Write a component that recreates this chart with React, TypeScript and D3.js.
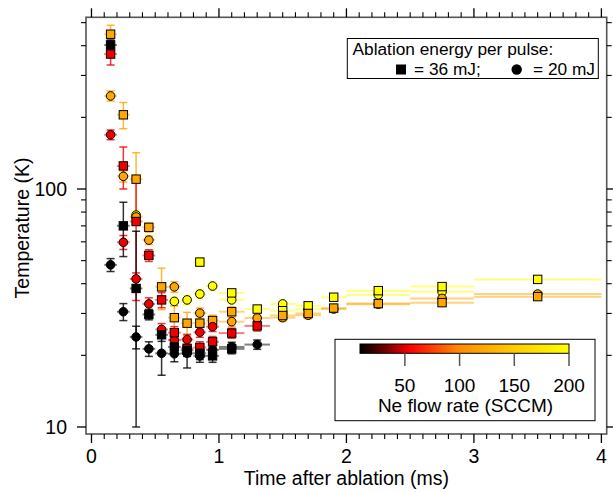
import React from "react";
import * as d3 from "d3";

// ---- data ----
const binTimes = [0.15, 0.25, 0.35, 0.45, 0.55, 0.65, 0.75, 0.85, 0.95, 1.1, 1.3, 1.5, 1.7, 1.9, 2.25, 2.75, 3.5];
const binHalfWidth = [0.05, 0.05, 0.05, 0.05, 0.05, 0.05, 0.05, 0.05, 0.05, 0.1, 0.1, 0.1, 0.1, 0.1, 0.25, 0.25, 0.5];

const flowColors = ["#000000", "#ee0000", "#ffa600", "#ffff00"]; // low -> high Ne flow

// 36 mJ (squares)
const tSqBlack = [0.15, 0.25, 0.35, 0.45, 0.55, 0.65, 0.75, 0.85, 0.95, 1.1];
const TSqBlack = [403, 70, 38.2, 29.7, 24.4, 21.7, 21.0, 20.4, 19.9, 21.3];
const eSqBlack = [20, 18, 28.2, 1.5, 1.5, 1.2, 1.2, 1.2, 1.2, 1.0];

const tSqRed = [0.15, 0.25, 0.35, 0.45, 0.55, 0.65, 0.75, 0.85, 0.95, 1.1, 1.3];
const TSqRed = [369, 125, 73, 52.6, 34.2, 24.9, 21.4, 21.6, 22.8, 24.8, 26.6];
const eSqRed = [37, 25, 39, 3, 2.5, 1.5, 1.5, 1.2, 1.2, 1.2, 1.3];

const tSqOrange = [0.15, 0.25, 0.35, 0.45, 0.55, 0.65, 0.75, 0.85, 0.95, 1.1, 1.5, 1.7, 1.9, 2.25, 2.75, 3.5];
const TSqOrange = [447, 205, 110, 69, 38.8, 28.8, 27.3, 27.3, 28.0, 30.5, 29.4, 30.0, 31.6, 33.0, 33.3, 35.3];
const eSqOrange = [40, 26, 32, 3, 7.7, 3.5, 3, 2, 1.5, 1.5, 1, 1, 1, 1, 1, 1];

const tSqYellow = [0.85, 1.1, 1.3, 1.5, 1.7, 1.9, 2.25, 2.75, 3.5];
const TSqYellow = [49.3, 36.6, 31.3, 30.8, 32.3, 35.1, 37.4, 38.9, 41.7];
const eSqYellow = [2, 1.5, 1.2, 1, 1, 1, 1, 1, 1];

// 20 mJ (circles)
const tCiBlack = [0.15, 0.25, 0.35, 0.45, 0.55, 0.65, 0.75, 0.85, 0.95, 1.1, 1.3];
const TCiBlack = [48, 30.5, 23.9, 21.3, 20.4, 20.3, 20.4, 19.9, 21.1, 21.7, 22.2];
const eCiBlack = [3, 2.5, 2.6, 1.5, 3.9, 1.5, 2.7, 1.2, 1.0, 1.0, 1.0];

const tCiRed = [0.15, 0.25, 0.35, 0.45, 0.55, 0.65, 0.75, 0.85, 0.95];
const TCiRed = [169, 59.7, 41.9, 32.9, 25.7, 23.2, 23.3, 25.0, 26.4];
const eCiRed = [8, 4, 2.5, 2, 1.5, 1.2, 1.2, 1.2, 1.2];

const tCiOrange = [0.15, 0.25, 0.35, 0.45, 0.65, 0.85, 1.1, 1.3, 1.5, 1.7, 1.9, 2.25, 2.75, 3.5];
const TCiOrange = [246, 113, 76.3, 61, 38.8, 30.1, 27.7, 28.7, 28.8, 29.5, 31.3, 32.8, 34.7, 36.2];
const eCiOrange = [12, 6, 3, 2.5, 2, 1.5, 1.2, 1.2, 1, 1, 1, 1, 1, 1];

const tCiYellow = [0.35, 0.65, 0.75, 0.85, 0.95, 1.1, 1.5, 1.7, 2.25, 2.75];
const TCiYellow = [77.7, 33.7, 34.2, 36.2, 39.1, 34.2, 32.9, 31.2, 35.9, 37.0];
const eCiYellow = [3, 1.5, 1.5, 1.5, 1.5, 1.2, 1, 1, 1, 1];

const xMajorTicks = [0, 1, 2, 3, 4];
const yMajorTicks = [10, 100];
const yMinorTicks = [20, 30, 40, 50, 60, 70, 80, 90, 200, 300, 400, 500];
const cbTicks = [50, 100, 150, 200];

const xTitle = "Time after ablation (ms)";
const yTitle = "Temperature (K)";
const legendTitle = "Ablation energy per pulse:";
const legendSq = "= 36 mJ;";
const legendCi = "= 20 mJ";
const cbTitle = "Ne flow rate (SCCM)";

type Series = { t: number[]; T: number[]; e: number[]; color: string; shape: "sq" | "ci" };

const series: Series[] = [
  { t: tCiYellow, T: TCiYellow, e: eCiYellow, color: flowColors[3], shape: "ci" },
  { t: tSqYellow, T: TSqYellow, e: eSqYellow, color: flowColors[3], shape: "sq" },
  { t: tCiOrange, T: TCiOrange, e: eCiOrange, color: flowColors[2], shape: "ci" },
  { t: tSqOrange, T: TSqOrange, e: eSqOrange, color: flowColors[2], shape: "sq" },
  { t: tCiRed, T: TCiRed, e: eCiRed, color: flowColors[1], shape: "ci" },
  { t: tSqRed, T: TSqRed, e: eSqRed, color: flowColors[1], shape: "sq" },
  { t: tCiBlack, T: TCiBlack, e: eCiBlack, color: flowColors[0], shape: "ci" },
  { t: tSqBlack, T: TSqBlack, e: eSqBlack, color: flowColors[0], shape: "sq" },
];

const W = 613;
const H = 492;
const L = 86, R = 606.7, TOP = 17.3, BOT = 434;
const FONT = "'Liberation Sans', Arial, sans-serif";

const x = d3.scaleLinear().domain([-0.043, 4.0416]).range([L, R]);
const y = d3.scaleLog().domain([9.345, 526.5]).range([BOT, TOP]);
const cb = d3.scaleLinear().domain([9, 200]).range([360, 569]);

const halfWidthFor = (t: number) => {
  const i = binTimes.findIndex((b) => Math.abs(b - t) < 1e-6);
  return i >= 0 ? binHalfWidth[i] : 0.05;
};

export default function App() {
  const xMinor = d3.range(0, 41).map((i) => i / 10).filter((v) => Math.abs(v - Math.round(v)) > 1e-6);
  const SQ = 8.4;
  const CR = 4.3;
  const CAP = 4;

  return (
    <svg width={W} height={H} style={{ position: "absolute", left: 0, top: 0, background: "#fff" }} fontFamily={FONT}>
      <defs>
        <clipPath id="plot">
          <rect x={L} y={TOP} width={R - L} height={BOT - TOP} />
        </clipPath>
        <linearGradient id="cbgrad" x1="0" x2="1" y1="0" y2="0">
          <stop offset="0" stopColor="#000000" />
          <stop offset="0.1" stopColor="#5a0000" />
          <stop offset="0.24" stopColor="#ff0000" />
          <stop offset="0.47" stopColor="#ff8a00" />
          <stop offset="0.74" stopColor="#ffcc00" />
          <stop offset="1" stopColor="#ffff00" />
        </linearGradient>
      </defs>
      <rect x={0} y={0} width={W} height={H} fill="#fff" />

      <g clipPath="url(#plot)">
        {series.map((s, si) =>
          s.t.map((t, i) => {
            const h = halfWidthFor(t);
            return (
              <line key={`h${si}-${i}`} x1={x(t - h)} x2={x(t + h)} y1={y(s.T[i])} y2={y(s.T[i])}
                stroke={s.color} strokeOpacity={0.5} strokeWidth={2} />
            );
          })
        )}
        {series.map((s, si) =>
          s.t.map((t, i) => {
            const lo = Math.max(s.T[i] - s.e[i], 1);
            const hi = s.T[i] + s.e[i];
            const cx = x(t);
            return (
              <g key={`v${si}-${i}`} stroke={s.color} strokeOpacity={0.8} strokeWidth={1.5}>
                <line x1={cx} x2={cx} y1={y(lo)} y2={y(hi)} />
                <line x1={cx - CAP} x2={cx + CAP} y1={y(lo)} y2={y(lo)} />
                <line x1={cx - CAP} x2={cx + CAP} y1={y(hi)} y2={y(hi)} />
              </g>
            );
          })
        )}
        {series.map((s, si) =>
          s.t.map((t, i) =>
            s.shape === "sq" ? (
              <rect key={`m${si}-${i}`} x={x(t) - SQ / 2} y={y(s.T[i]) - SQ / 2} width={SQ} height={SQ}
                fill={s.color} stroke="#000" strokeWidth={1} />
            ) : (
              <circle key={`m${si}-${i}`} cx={x(t)} cy={y(s.T[i])} r={CR} fill={s.color} stroke="#000" strokeWidth={1} />
            )
          )
        )}
      </g>

      <rect x={L} y={TOP} width={R - L} height={BOT - TOP} fill="none" stroke="#555" strokeWidth={1.6} />

      {xMajorTicks.map((v) => (
        <g key={`xt${v}`} stroke="#000" strokeWidth={1.3}>
          <line x1={x(v)} x2={x(v)} y1={BOT} y2={BOT + 9} />
          <line x1={x(v)} x2={x(v)} y1={TOP} y2={TOP - 9} />
        </g>
      ))}
      {xMinor.map((v) => (
        <g key={`xm${v}`} stroke="#000" strokeWidth={1.1}>
          <line x1={x(v)} x2={x(v)} y1={BOT} y2={BOT + 5} />
          <line x1={x(v)} x2={x(v)} y1={TOP} y2={TOP - 5} />
        </g>
      ))}
      {xMajorTicks.map((v) => (
        <text key={`xl${v}`} x={x(v)} y={463} textAnchor="middle" fontSize={19.5} fill="#000">{v}</text>
      ))}

      {yMajorTicks.map((v) => (
        <g key={`yt${v}`} stroke="#000" strokeWidth={1.3}>
          <line x1={L} x2={L - 9} y1={y(v)} y2={y(v)} />
          <line x1={R} x2={R + 9} y1={y(v)} y2={y(v)} />
        </g>
      ))}
      {yMinorTicks.map((v) => (
        <g key={`ym${v}`} stroke="#000" strokeWidth={1.1}>
          <line x1={L} x2={L - 5} y1={y(v)} y2={y(v)} />
          <line x1={R} x2={R + 5} y1={y(v)} y2={y(v)} />
        </g>
      ))}
      {yMajorTicks.map((v) => (
        <text key={`yl${v}`} x={67} y={y(v) + 7} textAnchor="end" fontSize={19.5} fill="#000">{v}</text>
      ))}

      <text x={(x(0) + x(4)) / 2} y={485} textAnchor="middle" fontSize={19.5} fill="#000">{xTitle}</text>
      <text transform={`translate(29,228) rotate(-90)`} textAnchor="middle" fontSize={19.5} fill="#000">{yTitle}</text>

      <rect x={347.3} y={38.5} width={251} height={40} fill="#fff" stroke="#000" strokeWidth={1} />
      <text x={352.5} y={55} fontSize={17.3} fill="#000">{legendTitle}</text>
      <rect x={396} y={64.5} width={10} height={10} fill="#000" />
      <text x={414} y={74.5} fontSize={17.3} fill="#000">{legendSq}</text>
      <circle cx={516.7} cy={69.5} r={5.2} fill="#000" />
      <text x={533} y={74.5} fontSize={17.3} fill="#000">{legendCi}</text>

      <rect x={335} y={339.3} width={260} height={81.4} fill="#fff" stroke="#000" strokeWidth={1} />
      <rect x={cb(9)} y={344} width={cb(200) - cb(9)} height={9.3} fill="url(#cbgrad)" stroke="#000" strokeWidth={1} />
      {cbTicks.map((v) => (
        <g key={`cb${v}`}>
          <line x1={cb(v)} x2={cb(v)} y1={353.3} y2={366} stroke="#555" strokeWidth={1.5} />
          <text x={cb(v)} y={391.5} textAnchor="middle" fontSize={19} fill="#000">{v}</text>
        </g>
      ))}
      <text x={465.5} y={412} textAnchor="middle" fontSize={19} fill="#000">{cbTitle}</text>
    </svg>
  );
}
